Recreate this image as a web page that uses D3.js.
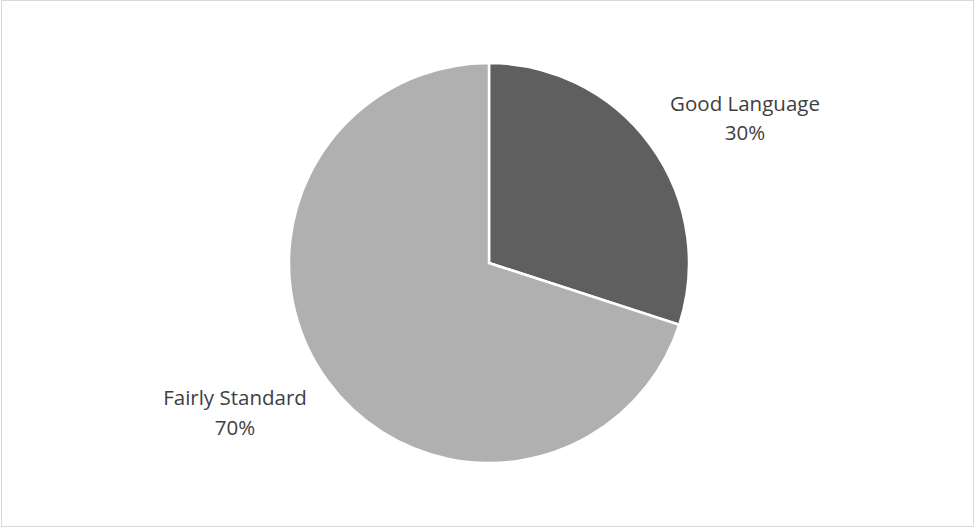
<!DOCTYPE html>
<html><head><meta charset="utf-8">
<script src="https://cdn.jsdelivr.net/npm/d3@7"></script>
<style>html,body{margin:0;padding:0;background:#fff;}svg{display:block;}</style>
</head><body>
<script>
const categories = ["Good Language", "Fairly Standard"];
const values = [30, 70];
const labels = ["30%", "70%"];
const colors = ["#5f5f5f", "#b0b0b0"];

const W = 975, H = 529;
const svg = d3.select("body").append("svg").attr("width", W).attr("height", H);
svg.append("rect").attr("x", 1.5).attr("y", 0.5).attr("width", 972).attr("height", 526)
  .attr("fill", "#fff").attr("stroke", "#d9d9d9").attr("stroke-width", 1);

const cx = 489, cy = 263, r = 200;
const pie = d3.pie().sort(null).value(d => d)(values);
const arc = d3.arc().innerRadius(0).outerRadius(r);
const g = svg.append("g").attr("transform", `translate(${cx},${cy})`);
g.selectAll("path").data(pie).join("path")
  .attr("d", arc).attr("fill", (d, i) => colors[i])
  .attr("stroke", "#fff").attr("stroke-width", 2.5).attr("stroke-linejoin", "miter");

const labelPos = [[745, 110.5], [235, 405]];
const t = svg.selectAll("text.lbl").data(categories).join("text")
  .attr("class", "lbl")
  .attr("text-anchor", "middle")
  .attr("font-family", "'Open Sans', sans-serif")
  .attr("font-size", 20.5)
  .attr("fill", "#404040");
t.each(function(d, i) {
  const s = d3.select(this);
  s.append("tspan").attr("x", labelPos[i][0]).attr("y", labelPos[i][1]).text(d);
  s.append("tspan").attr("x", labelPos[i][0]).attr("y", labelPos[i][1] + 29.5).text(labels[i]);
});
</script>
</body></html>
